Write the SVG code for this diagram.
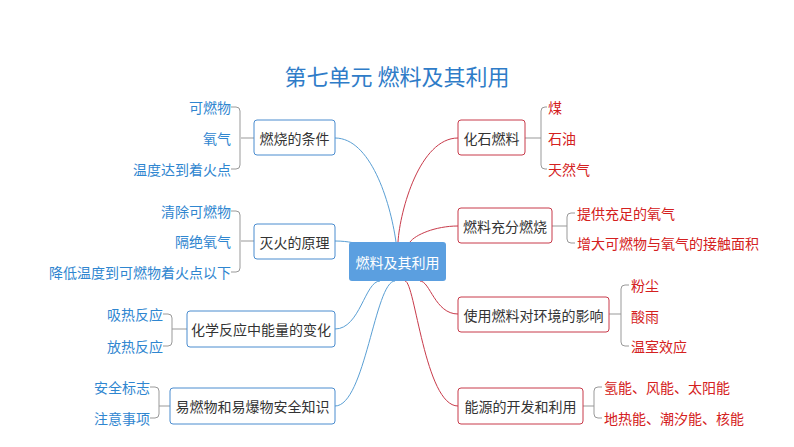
<svg xmlns="http://www.w3.org/2000/svg" width="794" height="447" viewBox="0 0 794 447">
<style>
text{font-family:"Noto Sans CJK SC","Noto Sans",sans-serif;}
.nb{fill:#fff;stroke:#4a8ccf;stroke-width:1;}
.nr{fill:#fff;stroke:#c83a4a;stroke-width:1;}
.nt{font-size:14px;fill:#333;text-anchor:middle;dominant-baseline:central;}
.lb{font-size:14px;fill:#2f86d0;text-anchor:end;dominant-baseline:central;}
.lr{font-size:14px;fill:#d42020;dominant-baseline:central;}
.cb{fill:none;stroke:#5a9fd4;stroke-width:1;}
.cr{fill:none;stroke:#c83a4a;stroke-width:1;}
.br{fill:none;stroke:#999;stroke-width:1;}
</style>
<rect width="794" height="447" fill="#fff"/>
<text x="397" y="75" font-size="22" fill="#2f7cc8" text-anchor="middle" dominant-baseline="central">第七单元  燃料及其利用</text>
<g id="connectors">
<path class="cb" d="M335,138 C370,138 390,200 396,242"/>
<path class="cb" d="M335,241 C350,241 355,244 365,244"/>
<path class="cb" d="M335,329 C360,329 365,281 380,281"/>
<path class="cb" d="M335,406 C365,406 375,281 395,281"/>
<path class="cr" d="M458,138 C420,138 400,210 398,242"/>
<path class="cr" d="M458,226 C435,226 415,235 410,242"/>
<path class="cr" d="M458,314 C435,314 430,281 420,281"/>
<path class="cr" d="M458,406 C425,406 415,281 405,281"/>
<path class="br" d="M335,138H241M231,107h5a4,4 0 0 1 4,4v54a4,4 0 0 1 -4,4h-5"/>
<path class="br" d="M254,241H241M231,211h5a4,4 0 0 1 4,4v53a4,4 0 0 1 -4,4h-5"/>
<path class="br" d="M187,329H172M163,314h5a4,4 0 0 1 4,4v24a4,4 0 0 1 -4,4h-5"/>
<path class="br" d="M170,406H159M150,387h5a4,4 0 0 1 4,4v23a4,4 0 0 1 -4,4h-5"/>
<path class="br" d="M525,138H541M547,107h-2a4,4 0 0 0 -4,4v54a4,4 0 0 0 4,4h2"/>
<path class="br" d="M552,226H567M575,213h-4a4,4 0 0 0 -4,4v22a4,4 0 0 0 4,4h4"/>
<path class="br" d="M609,314H621M629,285h-4a4,4 0 0 0 -4,4v53a4,4 0 0 0 4,4h4"/>
<path class="br" d="M583,406H594M602,387h-4a4,4 0 0 0 -4,4v23a4,4 0 0 0 4,4h4"/>
</g>
<g id="center"><rect x="349" y="242" width="97" height="39" rx="3" fill="#5b9fe0"/><text x="397.5" y="261.5" font-size="14" fill="#fff" text-anchor="middle" dominant-baseline="central">燃料及其利用</text></g>
<g id="n1"><rect class="nb" x="254" y="120" width="81" height="35" rx="3"/><text class="nt" x="294.5" y="137.5">燃烧的条件</text>
<text class="lb" x="231" y="107">可燃物</text><text class="lb" x="231" y="138">氧气</text><text class="lb" x="231" y="169">温度达到着火点</text></g>
<g id="n2"><rect class="nb" x="254" y="224" width="81" height="35" rx="3"/><text class="nt" x="294.5" y="241.5">灭火的原理</text>
<text class="lb" x="231" y="211">清除可燃物</text><text class="lb" x="231" y="241">隔绝氧气</text><text class="lb" x="231" y="272">降低温度到可燃物着火点以下</text></g>
<g id="n3"><rect class="nb" x="187" y="311" width="148" height="36" rx="3"/><text class="nt" x="261" y="329">化学反应中能量的变化</text>
<text class="lb" x="163" y="314">吸热反应</text><text class="lb" x="163" y="346">放热反应</text></g>
<g id="n4"><rect class="nb" x="170" y="388" width="165" height="36" rx="3"/><text class="nt" x="252.5" y="406">易燃物和易爆物安全知识</text>
<text class="lb" x="150" y="387">安全标志</text><text class="lb" x="150" y="418">注意事项</text></g>
<g id="n5"><rect class="nr" x="458" y="120" width="67" height="35" rx="3"/><text class="nt" x="491.5" y="137.5">化石燃料</text>
<text class="lr" x="548" y="107">煤</text><text class="lr" x="548" y="138">石油</text><text class="lr" x="548" y="169">天然气</text></g>
<g id="n6"><rect class="nr" x="458" y="208" width="94" height="35" rx="3"/><text class="nt" x="505" y="225.5">燃料充分燃烧</text>
<text class="lr" x="577" y="213">提供充足的氧气</text><text class="lr" x="577" y="243">增大可燃物与氧气的接触面积</text></g>
<g id="n7"><rect class="nr" x="458" y="297" width="151" height="35" rx="3"/><text class="nt" x="533.5" y="314.5">使用燃料对环境的影响</text>
<text class="lr" x="631" y="285">粉尘</text><text class="lr" x="631" y="316">酸雨</text><text class="lr" x="631" y="346">温室效应</text></g>
<g id="n8"><rect class="nr" x="458" y="388" width="125" height="36" rx="3"/><text class="nt" x="520.5" y="406">能源的开发和利用</text>
<text class="lr" x="604" y="387">氢能、风能、太阳能</text><text class="lr" x="604" y="418">地热能、潮汐能、核能</text></g>
</svg>
